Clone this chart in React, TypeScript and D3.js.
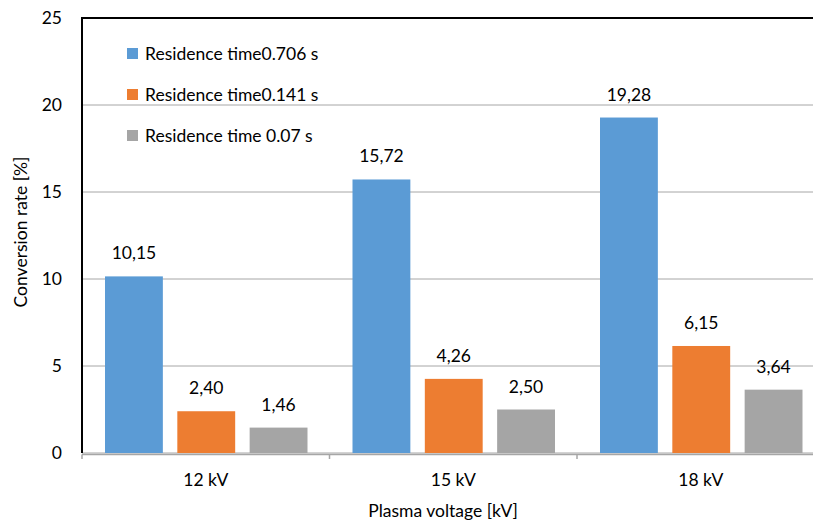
import React from "react";
import * as d3 from "d3";

const categories = ["12 kV", "15 kV", "18 kV"];
const seriesNames = ["Residence time0.706 s", "Residence time0.141 s", "Residence time 0.07 s"];
const series706 = [10.15, 15.72, 19.28];
const series141 = [2.4, 4.26, 6.15];
const series007 = [1.46, 2.5, 3.64];
const yTicks = [0, 5, 10, 15, 20, 25];
const colors = ["#5B9BD5", "#ED7D31", "#A5A5A5"];

const W = 813;
const H = 527;
const FONT = "Lato, 'Open Sans', sans-serif";
const FS = 17.5;

export default function App() {
  const seriesValues = [series706, series141, series007];
  const left = 82;
  const top = 18;
  const bottom = 453;
  const catW = 247.5;
  const x0 = d3.scaleBand<string>().domain(categories).range([left, left + catW * categories.length]).paddingInner(0).paddingOuter(0);
  const x1 = d3.scaleBand<number>().domain([0, 1, 2]).range([23, catW - 22]).paddingInner(0.2).paddingOuter(0);
  const y = d3.scaleLinear().domain([0, 25]).range([bottom, top]);
  const fmt = (v: number) => v.toFixed(2).replace(".", ",");

  return (
    <div style={{ position: "absolute", left: 0, top: 0 }}>
      <svg width={W} height={H} style={{ display: "block", background: "#fff" }} fontFamily={FONT}>
        {yTicks.map((t) => (
          <line key={"g" + t} x1={left} x2={W} y1={y(t)} y2={y(t)} stroke={t === 25 ? "#000" : "#a6a6a6"} strokeWidth={t === 25 ? 2 : 1} />
        ))}
        {yTicks.map((t) => (
          <text key={"t" + t} x={62} y={y(t)} dy="0.35em" textAnchor="end" fontSize={FS} fill="#000">{t}</text>
        ))}
        {categories.map((c, ci) =>
          seriesValues.map((vals, si) => {
            const bx = (x0(c) as number) + (x1(si) as number);
            const bw = x1.bandwidth();
            return (
              <g key={c + si}>
                <rect x={bx} y={y(vals[ci])} width={bw} height={bottom - y(vals[ci])} fill={colors[si]} />
                <text x={bx + bw / 2} y={y(vals[ci]) - 17} textAnchor="middle" fontSize={FS} fill="#000">{fmt(vals[ci])}</text>
              </g>
            );
          })
        )}
        <line x1={left} x2={W} y1={bottom + 1.5} y2={bottom + 1.5} stroke="#a6a6a6" strokeWidth={1.5} />
        {[0, 1, 2, 3].map((i) => (
          <line key={"xt" + i} x1={left + catW * i} x2={left + catW * i} y1={bottom + 1.5} y2={bottom + 6} stroke="#a6a6a6" strokeWidth={1.5} />
        ))}
        <line x1={left} x2={left} y1={top - 1} y2={bottom} stroke="#000" strokeWidth={2} />
        {categories.map((c) => (
          <text key={"c" + c} x={(x0(c) as number) + catW / 2} y={486} textAnchor="middle" fontSize={FS} fill="#000">{c}</text>
        ))}
        <text x={443} y={517} textAnchor="middle" fontSize={FS} fill="#000">Plasma voltage [kV]</text>
        <text transform="translate(27,232) rotate(-90)" textAnchor="middle" fontSize={FS} fill="#000">Conversion rate [%]</text>
        {seriesNames.map((n, i) => (
          <g key={"l" + i}>
            <rect x={127} y={48 + i * 41} width={11} height={11} fill={colors[i]} />
            <text x={145} y={54 + i * 41} dy="0.35em" fontSize={FS} fill="#000">{n}</text>
          </g>
        ))}
      </svg>
    </div>
  );
}
